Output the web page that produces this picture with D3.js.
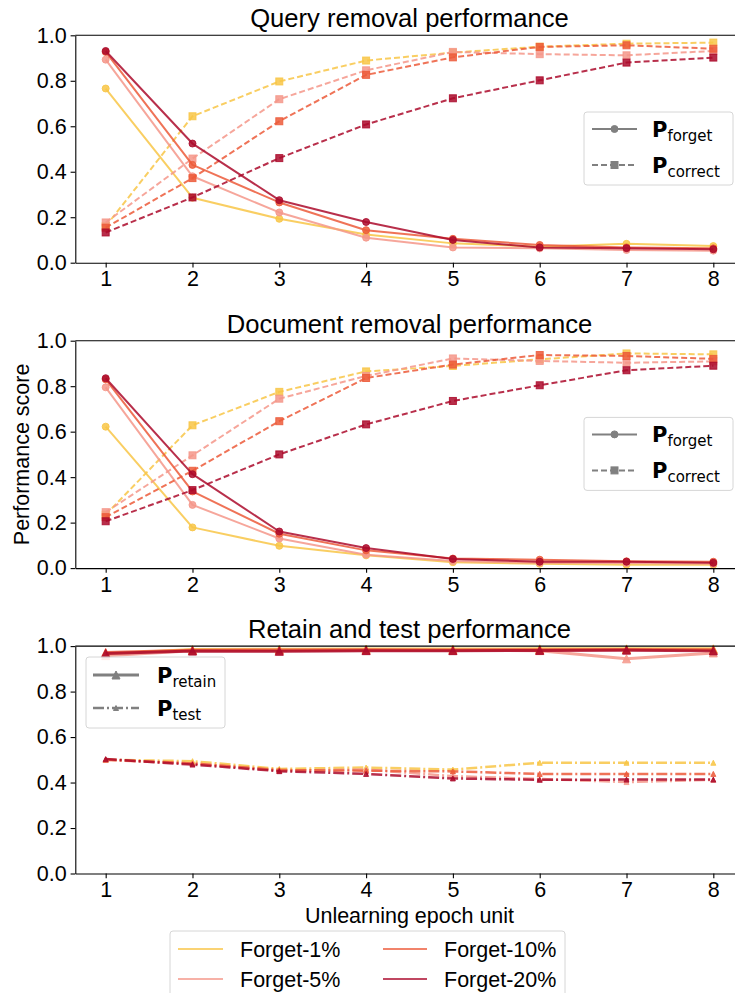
<!DOCTYPE html>
<html><head><meta charset="utf-8">
<script src="https://cdn.jsdelivr.net/npm/d3@7"></script>
<style>body{margin:0;background:#fff} svg{display:block}</style>
</head><body><svg id="c" width="735" height="993"></svg>
<script>
// ---------- data ----------
const epochs = [1, 2, 3, 4, 5, 6, 7, 8];
const levels = ["Forget-1%", "Forget-5%", "Forget-10%", "Forget-20%"];
const levelColors = ["#f8c546", "#f4978a", "#ec5a3a", "#ab0a2c"];
const yTicks = [0, 0.2, 0.4, 0.6, 0.8, 1.0];
const panelTitles = ["Query removal performance", "Document removal performance", "Retain and test performance"];

// rows: Forget-1%, Forget-5%, Forget-10%, Forget-20%
const queryForget = [
  [0.766, 0.286, 0.193, 0.124, 0.085, 0.070, 0.083, 0.073],
  [0.893, 0.380, 0.221, 0.110, 0.067, 0.063, 0.056, 0.053],
  [0.927, 0.430, 0.265, 0.143, 0.105, 0.078, 0.067, 0.063],
  [0.931, 0.524, 0.275, 0.179, 0.100, 0.067, 0.064, 0.059]
];
const queryCorrect = [
  [0.160, 0.644, 0.797, 0.889, 0.924, 0.950, 0.963, 0.968],
  [0.177, 0.458, 0.719, 0.846, 0.927, 0.917, 0.912, 0.931],
  [0.154, 0.372, 0.622, 0.826, 0.903, 0.949, 0.956, 0.941],
  [0.133, 0.287, 0.460, 0.608, 0.723, 0.802, 0.880, 0.902]
];
const docForget = [
  [0.622, 0.179, 0.098, 0.056, 0.026, 0.019, 0.015, 0.015],
  [0.795, 0.278, 0.130, 0.059, 0.031, 0.023, 0.022, 0.019],
  [0.830, 0.337, 0.151, 0.078, 0.042, 0.037, 0.030, 0.028],
  [0.835, 0.413, 0.161, 0.088, 0.040, 0.028, 0.028, 0.023]
];
const docCorrect = [
  [0.235, 0.628, 0.775, 0.865, 0.889, 0.918, 0.944, 0.940],
  [0.246, 0.496, 0.745, 0.845, 0.922, 0.911, 0.903, 0.909],
  [0.224, 0.428, 0.646, 0.836, 0.895, 0.937, 0.933, 0.920],
  [0.206, 0.343, 0.500, 0.632, 0.735, 0.804, 0.870, 0.890]
];
const retainScore = [
  [0.965, 0.985, 0.986, 0.987, 0.987, 0.988, 0.988, 0.988],
  [0.958, 0.980, 0.980, 0.981, 0.981, 0.980, 0.944, 0.970],
  [0.972, 0.982, 0.983, 0.984, 0.983, 0.984, 0.985, 0.984],
  [0.968, 0.978, 0.977, 0.980, 0.980, 0.981, 0.982, 0.979]
];
const testScore = [
  [0.500, 0.494, 0.460, 0.466, 0.457, 0.487, 0.487, 0.487],
  [0.499, 0.484, 0.452, 0.457, 0.428, 0.416, 0.402, 0.412],
  [0.501, 0.484, 0.455, 0.452, 0.449, 0.438, 0.438, 0.438],
  [0.503, 0.479, 0.450, 0.438, 0.418, 0.412, 0.413, 0.413]
];

// ---------- layout ----------
const FONT = "'Liberation Sans', Arial, sans-serif";
const MATH = "'DejaVu Sans', sans-serif";
const svg = d3.select("#c");
svg.append("rect").attr("width", 735).attr("height", 993).attr("fill", "#fff");

const axLeft = 75.3, axRight = 743.7, axH = 227.4;
const panelTops = [35.3, 340.7, 646.1];
const x = d3.scaleLinear().domain([0.65, 8.35]).range([axLeft, axRight]);
const cx = (axLeft + axRight) / 2;

const ALPHA = 0.85;

function drawSeries(g, y, vals, color, style) {
  const pts = epochs.map((e, i) => [e, vals[i]]);
  const line = d3.line().x(d => x(d[0])).y(d => y(d[1]));
  const p = g.append("path").attr("d", line(pts)).attr("fill", "none")
    .attr("stroke", color).attr("stroke-opacity", ALPHA)
    .attr("stroke-width", style.lw).attr("stroke-linejoin", "round");
  if (style.dash) p.attr("stroke-dasharray", style.dash);
  const mk = g.append("g");
  pts.forEach(d => {
    let s;
    if (style.marker === "circle") {
      s = mk.append("circle").attr("cx", x(d[0])).attr("cy", y(d[1])).attr("r", style.ms / 2);
    } else if (style.marker === "square") {
      s = mk.append("rect").attr("x", x(d[0]) - style.ms / 2).attr("y", y(d[1]) - style.ms / 2)
        .attr("width", style.ms).attr("height", style.ms);
    } else {
      const h = style.ms;
      s = mk.append("path").attr("d", `M${x(d[0])},${y(d[1]) - h / 2}L${x(d[0]) + h / 2},${y(d[1]) + h / 2}L${x(d[0]) - h / 2},${y(d[1]) + h / 2}Z`);
    }
    s.attr("fill", color).attr("fill-opacity", ALPHA)
     .attr("stroke", color).attr("stroke-opacity", ALPHA).attr("stroke-width", 1);
  });
}

function mathLabel(g, px, baseline, sub) {
  const t = g.append("text").attr("x", px).attr("y", baseline).attr("fill", "#000");
  t.append("tspan").attr("font-family", MATH).attr("font-weight", "bold").attr("font-size", 21).text("P");
  t.append("tspan").attr("font-family", MATH).attr("font-size", 15).attr("dy", 4.5).text(sub);
}

function handle(g, x0, x1, yy, style) {
  const l = g.append("line").attr("x1", x0).attr("x2", x1).attr("y1", yy).attr("y2", yy)
    .attr("stroke", "#808080").attr("stroke-width", style.lw);
  if (style.dash) l.attr("stroke-dasharray", style.dash);
  const m = (x0 + x1) / 2;
  let s;
  if (style.marker === "circle") s = g.append("circle").attr("cx", m).attr("cy", yy).attr("r", style.ms / 2);
  else if (style.marker === "square") s = g.append("rect").attr("x", m - style.ms / 2).attr("y", yy - style.ms / 2).attr("width", style.ms).attr("height", style.ms);
  else { const h = style.ms; s = g.append("path").attr("d", `M${m},${yy - h / 2}L${m + h / 2},${yy + h / 2}L${m - h / 2},${yy + h / 2}Z`); }
  s.attr("fill", "#808080").attr("stroke", "#808080").attr("stroke-width", 1);
}

const forgetStyle = { lw: 2, marker: "circle", ms: 7 };
const correctStyle = { lw: 2, marker: "square", ms: 7, dash: "6,3" };
const retainStyle = { lw: 3, marker: "tri", ms: 8 };
const testStyle = { lw: 2.5, marker: "tri", ms: 5, dash: "11,3,2,3" };

const panelData = [
  [queryForget, queryCorrect],
  [docForget, docCorrect],
  [retainScore, testScore]
];
const panelStyles = [
  [forgetStyle, correctStyle],
  [forgetStyle, correctStyle],
  [retainStyle, testStyle]
];

panelTops.forEach((top, pi) => {
  const y = d3.scaleLinear().domain([0, 1]).range([top + axH, top]);
  const g = svg.append("g");

  // series
  levels.forEach((lv, li) => {
    drawSeries(g, y, panelData[pi][0][li], levelColors[li], panelStyles[pi][0]);
    drawSeries(g, y, panelData[pi][1][li], levelColors[li], panelStyles[pi][1]);
  });

  // axes
  const ya = g.append("g").attr("transform", `translate(${axLeft},0)`)
    .call(d3.axisLeft(y).tickValues(yTicks).tickFormat(d3.format(".1f")).tickSize(4.7).tickSizeOuter(0).tickPadding(3.9));
  const xa = g.append("g").attr("transform", `translate(0,${top + axH})`)
    .call(d3.axisBottom(x).tickValues(epochs).tickFormat(d3.format("d")).tickSize(4.7).tickSizeOuter(0).tickPadding(3.5));
  [ya, xa].forEach(a => {
    a.selectAll("text").attr("font-family", FONT).attr("font-size", 21.5).attr("fill", "#000");
    a.selectAll("line").attr("stroke", "#000").attr("stroke-width", 1.1);
    a.select(".domain").attr("stroke", "#000").attr("stroke-width", 1.1);
  });
  g.append("line").attr("x1", axLeft).attr("x2", axRight).attr("y1", top).attr("y2", top)
    .attr("stroke", "#000").attr("stroke-width", 1.1);
  g.append("line").attr("x1", axRight).attr("x2", axRight).attr("y1", top).attr("y2", top + axH)
    .attr("stroke", "#000").attr("stroke-width", 1.1);

  // title
  g.append("text").attr("x", cx).attr("y", top - 8).attr("text-anchor", "middle")
    .attr("font-family", FONT).attr("font-size", 25.6).attr("fill", "#000").text(panelTitles[pi]);

  // legend
  const lg = g.append("g");
  if (pi < 2) {
    const bt = top + 76.7;
    lg.append("rect").attr("x", 584).attr("y", bt).attr("width", 149).attr("height", 73).attr("rx", 3)
      .attr("fill", "#fff").attr("fill-opacity", 0.8).attr("stroke", "#d6d6d6").attr("stroke-width", 1);
    handle(lg, 592, 637, bt + 17, forgetStyle);
    mathLabel(lg, 652, bt + 24.5, "forget");
    handle(lg, 592, 637, bt + 53, correctStyle);
    mathLabel(lg, 652, bt + 60.5, "correct");
  } else {
    const bt = 657;
    lg.append("rect").attr("x", 86).attr("y", bt).attr("width", 139).attr("height", 71).attr("rx", 3)
      .attr("fill", "#fff").attr("fill-opacity", 0.8).attr("stroke", "#d6d6d6").attr("stroke-width", 1);
    handle(lg, 93, 139, bt + 18, retainStyle);
    mathLabel(lg, 157, bt + 25.5, "retain");
    handle(lg, 93, 139, bt + 51, testStyle);
    mathLabel(lg, 157, bt + 58.5, "test");
  }
});

// y label
svg.append("text").attr("transform", `translate(28.5,${panelTops[1] + axH / 2}) rotate(-90)`)
  .attr("text-anchor", "middle").attr("font-family", FONT).attr("font-size", 21.5).attr("fill", "#000")
  .text("Performance score");

// x label
svg.append("text").attr("x", cx).attr("y", 923).attr("text-anchor", "middle")
  .attr("font-family", FONT).attr("font-size", 21.5).attr("fill", "#000").text("Unlearning epoch unit");

// bottom legend
const bl = svg.append("g");
bl.append("rect").attr("x", 170).attr("y", 931).attr("width", 395).attr("height", 70).attr("rx", 3)
  .attr("fill", "#fff").attr("stroke", "#d6d6d6").attr("stroke-width", 1);
const colX = [[178, 223, 240], [383, 427, 444]];
const rowY = [949, 979];
levels.forEach((lv, li) => {
  const c = Math.floor(li / 2), r = li % 2;
  bl.append("line").attr("x1", colX[c][0]).attr("x2", colX[c][1]).attr("y1", rowY[r]).attr("y2", rowY[r])
    .attr("stroke", levelColors[li]).attr("stroke-width", 1.6);
  bl.append("text").attr("x", colX[c][2]).attr("y", rowY[r] + 7.7)
    .attr("font-family", FONT).attr("font-size", 21.5).attr("fill", "#000").text(lv);
});
</script></body></html>
